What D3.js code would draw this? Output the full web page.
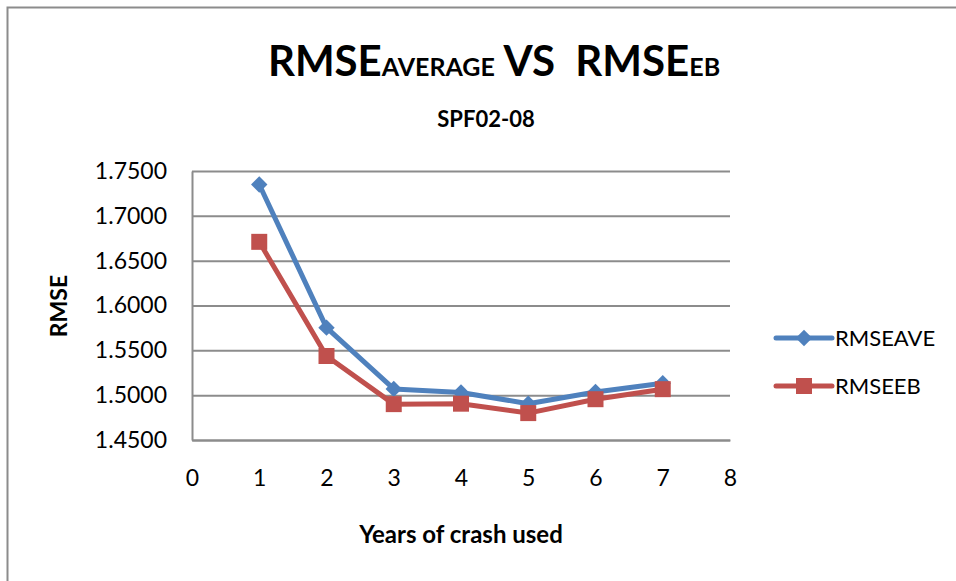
<!DOCTYPE html>
<html>
<head>
<meta charset="utf-8">
<script src="https://cdn.jsdelivr.net/npm/d3@7"></script>
<style>
  body { margin: 0; background: #fff; }
  svg { font-family: Lato, "Open Sans", sans-serif; }
</style>
</head>
<body>
<div class="chart"></div>
<script>
const years = [1, 2, 3, 4, 5, 6, 7]
const rmseAve = [1.7350, 1.5753, 1.5070, 1.5030, 1.4905, 1.5035, 1.5132]
const rmseEb = [1.6710, 1.5437, 1.4900, 1.4905, 1.4800, 1.4955, 1.5067]
const xTicks = [0, 1, 2, 3, 4, 5, 6, 7, 8]
const yTicks = [1.45, 1.50, 1.55, 1.60, 1.65, 1.70, 1.75]

const width = 956
const height = 581
const margin = {left: 192, right: 226, top: 171, bottom: 141}

const svg = d3.select(".chart").append("svg")
    .attr("width", width)
    .attr("height", height)

// outer frame (only top and left edges are visible)
svg.append("path")
    .attr("d", `M7.5,${height} V7.5 H${width}`)
    .attr("fill", "none")
    .attr("stroke", "#8c8c8c")
    .attr("stroke-width", 2)

const xScale = d3.scaleLinear()
    .domain([0, 8])
    .range([margin.left, width - margin.right])

const yScale = d3.scaleLinear()
    .domain([1.45, 1.75])
    .range([height - margin.bottom, margin.top])

// gridlines
svg.append("g")
    .attr("transform", `translate(${margin.left},0)`)
    .call(d3.axisLeft(yScale).tickValues(yTicks)
        .tickSize(-(width - margin.right - margin.left)).tickFormat(""))
    .call(g => g.select(".domain").remove())
    .selectAll("line")
    .attr("stroke", "#8c8c8c")
    .attr("stroke-width", 2)

// y axis labels
const yAxis = svg.append("g")
    .attr("transform", `translate(${margin.left},0)`)
    .call(d3.axisLeft(yScale).tickValues(yTicks).tickSize(0).tickPadding(25)
        .tickFormat(d3.format(".4f")))
yAxis.select(".domain").attr("stroke", "#8c8c8c").attr("stroke-width", 2)
yAxis.selectAll("text")
    .attr("font-family", "Lato")
    .attr("font-size", "23px")
    .attr("fill", "#000")

// x axis labels
const xAxis = svg.append("g")
    .attr("transform", `translate(0,${height - margin.bottom})`)
    .call(d3.axisBottom(xScale).tickValues(xTicks).tickSize(0).tickPadding(30)
        .tickFormat(d3.format("d")))
xAxis.select(".domain").attr("stroke", "#8c8c8c").attr("stroke-width", 2)
xAxis.selectAll("text")
    .attr("font-family", "Lato")
    .attr("font-size", "23px")
    .attr("fill", "#000")

const series = [
    {name: "RMSEAVE", values: rmseAve, color: "#4f81bd", rotate: 45, size: 135},
    {name: "RMSEEB", values: rmseEb, color: "#c0504d", rotate: 0, size: 256}
]

const line = d3.line()
    .x((d, i) => xScale(years[i]))
    .y(d => yScale(d))

series.forEach(s => {
    svg.append("path")
        .datum(s.values)
        .attr("d", line)
        .attr("fill", "none")
        .attr("stroke", s.color)
        .attr("stroke-width", 5)
        .attr("stroke-linejoin", "round")
        .attr("stroke-linecap", "round")

    svg.selectAll(null)
        .data(s.values)
        .enter().append("path")
        .attr("transform", (d, i) => `translate(${xScale(years[i])},${yScale(d)}) rotate(${s.rotate})`)
        .attr("d", d3.symbol().type(d3.symbolSquare).size(s.size))
        .attr("fill", s.color)
})

// legend
series.forEach((s, i) => {
    const g = svg.append("g")
        .attr("transform", `translate(776, ${338 + i * 48})`)
    g.append("line")
        .attr("x1", 0).attr("x2", 56)
        .attr("stroke", s.color)
        .attr("stroke-width", 5)
        .attr("stroke-linecap", "round")
    g.append("path")
        .attr("transform", `translate(28,0) rotate(${s.rotate})`)
        .attr("d", d3.symbol().type(d3.symbolSquare).size(s.size))
        .attr("fill", s.color)
    g.append("text")
        .attr("x", 59)
        .attr("dy", "0.35em")
        .attr("font-size", "22px")
        .text(s.name)
})

// titles
const title = svg.append("text")
    .attr("x", 494)
    .attr("y", 76)
    .attr("text-anchor", "middle")
    .attr("font-weight", "bold")
    .attr("font-size", "42px")
    .style("white-space", "pre")
title.append("tspan").text("RMSE")
title.append("tspan").attr("font-size", "25px").text("AVERAGE")
title.append("tspan").text(" VS  RMSE")
title.append("tspan").attr("font-size", "25px").text("EB")

svg.append("text")
    .attr("x", 486)
    .attr("y", 127)
    .attr("text-anchor", "middle")
    .attr("font-weight", "bold")
    .attr("font-size", "22px")
    .text("SPF02-08")

svg.append("text")
    .attr("transform", "translate(67,306) rotate(-90)")
    .attr("text-anchor", "middle")
    .attr("font-weight", "bold")
    .attr("font-size", "23px")
    .text("RMSE")

svg.append("text")
    .attr("x", 461)
    .attr("y", 543)
    .attr("text-anchor", "middle")
    .attr("font-weight", "bold")
    .attr("font-size", "24px")
    .text("Years of crash used")
</script>
</body>
</html>
